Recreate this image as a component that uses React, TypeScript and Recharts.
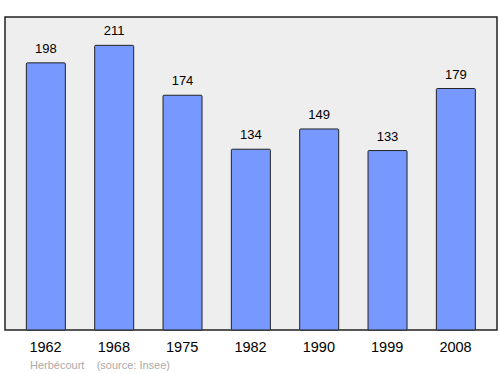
import { Bar, BarChart, LabelList, ReferenceArea, XAxis, YAxis } from "recharts";

const years = ["1962", "1968", "1975", "1982", "1990", "1999", "2008"];
const population = [198, 211, 174, 134, 149, 133, 179];
const commune = "Herbécourt";
const source = "(source: Insee)";

const data = years.map((year, i) => ({ idx: i, year, value: population[i] }));

export default function App() {
  return (
    <div style={{ position: "absolute", left: 0, top: 0, width: 500, height: 374 }}>
      <BarChart
        width={500}
        height={374}
        data={data}
        margin={{ top: 17, right: 3, left: 5, bottom: 0 }}
        style={{ fontFamily: "'Liberation Sans', Arial, sans-serif" }}
      >
        <XAxis
          dataKey="idx"
          type="number"
          domain={[-0.593, 6.607]}
          ticks={[0, 1, 2, 3, 4, 5, 6]}
          tickFormatter={(i: number) => years[i]}
          height={44}
          axisLine={false}
          tickLine={false}
          tickMargin={6}
          tick={{ fill: "#000", fontSize: 14.5 }}
          allowDataOverflow
        />
        <YAxis hide domain={[0, 232]} />
        <ReferenceArea
          y1={0}
          y2={232}
          fill="#eeeeee"
          fillOpacity={1}
          stroke="#222"
          strokeWidth={1.5}
        />
        <Bar
          dataKey="value"
          fill="#7799ff"
          stroke="#222"
          strokeWidth={1}
          barSize={39}
          radius={1}
          isAnimationActive={false}
        >
          <LabelList dataKey="value" position="top" offset={10} fill="#000" fontSize={13} />
        </Bar>
      </BarChart>
      <div
        style={{
          position: "absolute",
          left: 30,
          top: 359,
          fontFamily: "'Liberation Sans', Arial, sans-serif",
          fontSize: 11,
          color: "#aaaaaa",
          whiteSpace: "pre",
        }}
      >
        {commune + "    " + source}
      </div>
    </div>
  );
}
